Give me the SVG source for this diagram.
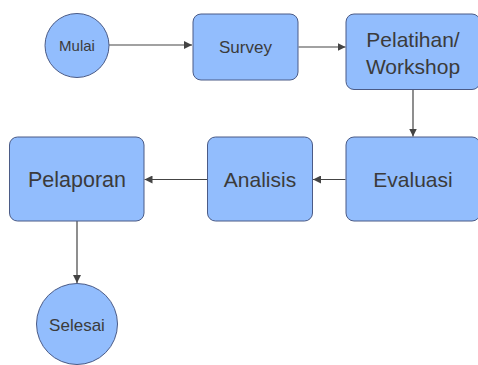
<svg xmlns="http://www.w3.org/2000/svg" width="478" height="365" viewBox="0 0 478 365">
<defs>
<style>
.n{fill:#92bdfd;stroke:#4b5b86;stroke-width:1}
.t{font-family:"Liberation Sans",Arial,sans-serif;fill:#3b3b3b;text-anchor:middle;dominant-baseline:central}
.c{stroke:#444;stroke-width:1.2;fill:none;marker-end:url(#a)}
</style>
<marker id="a" viewBox="0 0 10 10" refX="10" refY="5" markerWidth="8" markerHeight="8" markerUnits="userSpaceOnUse" orient="auto">
<path d="M0,0L10,5L0,10z" fill="#444"/>
</marker>
</defs>
<rect width="478" height="365" fill="#fff"/>
<g id="connectors">
<path class="c" d="M109,45H192"/>
<path class="c" d="M298.5,47H345.5"/>
<path class="c" d="M413,89.5V136.5"/>
<path class="c" d="M345.5,179.5H313"/>
<path class="c" d="M207,179.5H144.5"/>
<path class="c" d="M77,221V283"/>
</g>
<g id="mulai"><circle class="n" cx="77" cy="45.5" r="32"/><text class="t" x="77" y="45.5" font-size="15">Mulai</text></g>
<g id="survey"><rect class="n" x="193" y="14" width="105" height="66" rx="8"/><text class="t" x="245.5" y="47" font-size="17">Survey</text></g>
<g id="pelatihan"><rect class="n" x="346" y="14" width="134" height="75.5" rx="8"/><text class="t" x="413" y="39.5" font-size="21">Pelatihan/</text><text class="t" x="413" y="66" font-size="21">Workshop</text></g>
<g id="evaluasi"><rect class="n" x="346" y="137" width="134" height="84" rx="8"/><text class="t" x="413" y="179.5" font-size="21">Evaluasi</text></g>
<g id="analisis"><rect class="n" x="207.5" y="137" width="105" height="84" rx="8"/><text class="t" x="260" y="179.5" font-size="21">Analisis</text></g>
<g id="pelaporan"><rect class="n" x="9.5" y="137" width="134.5" height="84" rx="8"/><text class="t" x="77" y="179.5" font-size="21.5">Pelaporan</text></g>
<g id="selesai"><circle class="n" cx="77" cy="324" r="40.5"/><text class="t" x="77" y="325" font-size="17">Selesai</text></g>
</svg>
